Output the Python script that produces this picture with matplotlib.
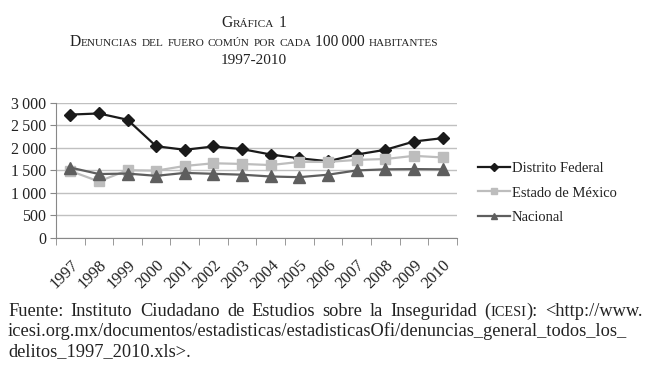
import numpy as np
import matplotlib
matplotlib.use("Agg")
import matplotlib.pyplot as plt
from matplotlib.ticker import FuncFormatter, MultipleLocator
from matplotlib.transforms import IdentityTransform, ScaledTranslation

# =========================
# DATA
# =========================
years = [str(y) for y in range(1997, 2011)]
distrito_federal = [2740, 2765, 2625, 2035, 1955, 2030, 1970, 1850, 1765, 1700, 1850, 1955, 2140, 2215]
estado_mexico = [1485, 1250, 1500, 1490, 1595, 1655, 1640, 1615, 1685, 1685, 1730, 1750, 1820, 1785]
nacional = [1560, 1415, 1425, 1375, 1440, 1420, 1400, 1360, 1345, 1400, 1495, 1520, 1525, 1520]

title_lines = ["Gráfica 1", "Denuncias del fuero común por cada 100\u2009000 habitantes"]
title_years = "1997-2010"
# text between | | is set in small caps
source_lines = [
    "Fuente: Instituto Ciudadano de Estudios sobre la Inseguridad (|icesi|): <http://www.",
    "icesi.org.mx/documentos/estadisticas/estadisticasOfi/denuncias_general_todos_los_",
    "delitos_1997_2010.xls>.",
]

plt.rcParams['font.family'] = ['Liberation Serif', 'DejaVu Serif']
ink = '#222222'
W, H = 650, 377

fig = plt.figure(figsize=(6.5, 3.77), dpi=100)
ax = fig.add_axes([0.086, 0.370, 0.617, 0.357])

x = np.arange(len(years))
ax.plot(x, distrito_federal, color='#1a1a1a', marker='D', markersize=6.5, linewidth=1.6, label='Distrito Federal')
ax.plot(x, estado_mexico, color='#bdbdbd', marker='s', markersize=7.5, linewidth=1.6, label='Estado de México')
ax.plot(x, nacional, color='#5e5e5e', marker='^', markersize=8, linewidth=1.6, label='Nacional')

ax.set_xlim(-0.5, len(years) - 0.5)
ax.set_ylim(0, 3000)
ax.yaxis.set_major_locator(MultipleLocator(500))
ax.yaxis.set_major_formatter(FuncFormatter(
    lambda v, p: f"{int(v):,}".replace(",", "\u2009")))
ax.grid(axis='y', color='#c0c0c0', linewidth=1)
ax.set_axisbelow(True)

ax.set_xticks(x)
ax.set_xticklabels(years, rotation=45, ha='right', rotation_mode='anchor', fontsize=12, color=ink)
shift = ScaledTranslation(5 / 100, 0, fig.dpi_scale_trans)
for lbl in ax.get_xticklabels():
    lbl.set_transform(lbl.get_transform() + shift)
ax.set_xticks(np.arange(-0.5, len(years)), minor=True)
ax.tick_params(axis='x', which='major', length=0, pad=14)
ax.tick_params(axis='x', which='minor', length=5, color='#888888')
ax.tick_params(axis='y', length=4, color='#888888', labelsize=11.5, labelcolor=ink, pad=3)

for side in ['top', 'right']:
    ax.spines[side].set_visible(False)
for side in ['left', 'bottom']:
    ax.spines[side].set_color('#888888')

ax.legend(loc='center left', bbox_to_anchor=(1.052, 0.331), frameon=False, fontsize=10.5,
          handlelength=2.2, handletextpad=0.15, labelspacing=0.75, labelcolor=ink,
          borderpad=0, borderaxespad=0, markerscale=0.6)

# =========================
# TEXT HELPERS (small caps, justified lines)
# =========================
renderer = fig.canvas.get_renderer()


def text_width(s, size):
    t = fig.text(0, 0, s, fontsize=size, transform=IdentityTransform())
    w = t.get_window_extent(renderer).width
    t.remove()
    return w


def caps_runs(word, size, ratio, all_small=False):
    runs = []
    for ch in word:
        is_small = ch.islower() or (all_small and ch.isalpha())
        txt = ch.upper() if is_small else ch
        sz = size * ratio if is_small else size
        if runs and runs[-1][1] == sz:
            runs[-1][0] += txt
        else:
            runs.append([txt, sz])
    return [(r, sz, text_width(r, sz)) for r, sz in runs]


def draw_words(words, x0, y, space):
    px = x0
    for wd in words:
        for r, sz, w in wd:
            fig.text(px, y, r, fontsize=sz, color=ink, transform=IdentityTransform(),
                     va='baseline', ha='left')
            px += w
        px += space


def space_width(size):
    return text_width("a a", size) - text_width("aa", size)


def small_caps(cx, y, s, size, ratio=0.72):
    words = [caps_runs(w, size, ratio) for w in s.split(' ')]
    sp = space_width(size)
    total = sum(w for wd in words for _, _, w in wd) + sp * (len(words) - 1)
    draw_words(words, cx - total / 2, y, sp)


def note_line(s, x0, y, size, right=None):
    words = []
    for w in s.split(' '):
        parts = w.split('|')
        runs = []
        for k, part in enumerate(parts):
            if not part:
                continue
            if k % 2 == 1:
                runs += caps_runs(part, size, 0.78, all_small=True)
            else:
                runs.append((part, size, text_width(part, size)))
        words.append(runs)
    sp = space_width(size)
    if right is not None and len(words) > 1:
        used = sum(w for wd in words for _, _, w in wd)
        sp = (right - x0 - used) / (len(words) - 1)
    draw_words(words, x0, y, sp)


# =========================
# TITLE
# =========================
small_caps(254, H - 27, title_lines[0], 11.2)
small_caps(254, H - 46, title_lines[1], 11.2)
fig.text(254, H - 64, title_years, fontsize=11, color=ink, ha='center', va='baseline',
         transform=IdentityTransform())

# =========================
# SOURCE NOTE
# =========================
note_line(source_lines[0], 8, H - 316, 13.2, right=643)
note_line(source_lines[1], 8, H - 336, 13.2)
note_line(source_lines[2], 8, H - 356, 13.2)

fig.savefig("out.png", dpi=100, facecolor='white')
